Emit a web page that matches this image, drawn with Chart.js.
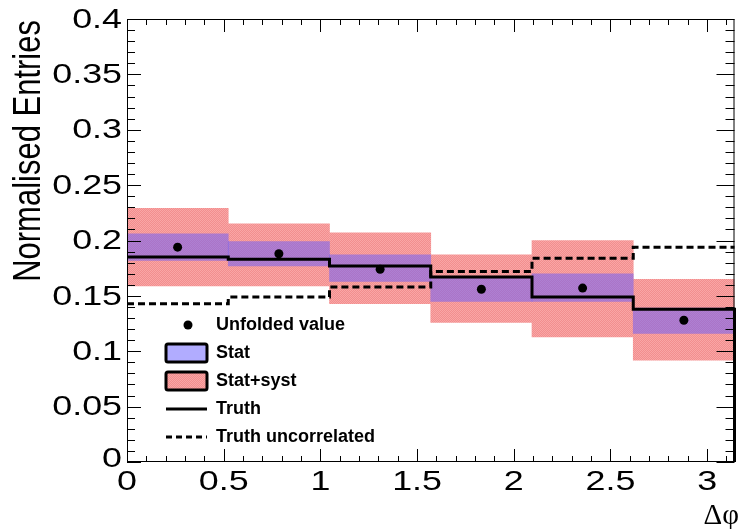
<!DOCTYPE html>
<html>
<head>
<meta charset="utf-8">
<script src="https://cdn.jsdelivr.net/npm/chart.js@4"></script>
<style>
  body { margin: 0; background: #fff; }
  #wrap { width: 739px; height: 529px; }
</style>
</head>
<body>
<div id="wrap"><canvas id="plot"></canvas></div>
<script>
const ctx = document.getElementById('plot').getContext('2d');

// bin edges and centres in delta phi (6 bins of pi/6)
const binEdges = [0, 0.5236, 1.0472, 1.5708, 2.0944, 2.618, 3.1416];
const binCentres = [0.2618, 0.7854, 1.309, 1.8326, 2.3562, 2.8798];

// values
const unfolded = [0.194, 0.188, 0.174, 0.156, 0.157, 0.128];
const statLo = [0.182, 0.177, 0.163, 0.145, 0.145, 0.116];
const statHi = [0.206, 0.199, 0.187, 0.167, 0.170, 0.139];
const systLo = [0.159, 0.159, 0.143, 0.126, 0.113, 0.092];
const systHi = [0.229, 0.215, 0.207, 0.187, 0.200, 0.165];
const truth = [0.185, 0.183, 0.177, 0.167, 0.149, 0.138];
const truthUncorr = [0.143, 0.149, 0.158, 0.172, 0.184, 0.194];

const yTicks = [0, 0.05, 0.1, 0.15, 0.2, 0.25, 0.3, 0.35, 0.4];
const xTicks = [0, 0.5, 1, 1.5, 2, 2.5, 3];

const STAT_FILL = 'rgba(100, 90, 255, 0.5)';

// small checker pattern to mimic the hatched pink fill
function makePattern(c1, c2) {
  const p = document.createElement('canvas');
  p.width = 2; p.height = 2;
  const pc = p.getContext('2d');
  pc.fillStyle = c1; pc.fillRect(0, 0, 2, 2);
  pc.fillStyle = c2; pc.fillRect(0, 0, 1, 1); pc.fillRect(1, 1, 1, 1);
  return ctx.createPattern(p, 'repeat');
}
const pinkFill = makePattern('rgb(242,142,142)', 'rgb(249,166,166)');

function stepData(vals, closeToZero) {
  const pts = vals.map((v, i) => ({ x: binEdges[i], y: v }));
  pts.push({ x: binEdges[binEdges.length - 1], y: vals[vals.length - 1] });
  if (closeToZero) pts.push({ x: binEdges[binEdges.length - 1], y: 0 });
  return pts;
}

function stretchText(c, text, x, y, sx, sy) {
  c.save();
  c.translate(x, y);
  c.scale(sx, sy);
  c.fillText(text, 0, 0);
  c.restore();
}

function roundBox(c, x, y, w, h, r) {
  c.beginPath();
  c.moveTo(x + r, y);
  c.arcTo(x + w, y, x + w, y + h, r);
  c.arcTo(x + w, y + h, x, y + h, r);
  c.arcTo(x, y + h, x, y, r);
  c.arcTo(x, y, x + w, y, r);
  c.closePath();
}

const rootFrame = {
  id: 'rootFrame',
  afterDraw(chart) {
    const c = chart.ctx;
    const a = chart.chartArea;
    const xs = chart.scales.x, ys = chart.scales.y;
    c.save();
    c.strokeStyle = '#000';
    c.lineWidth = 1;
    c.strokeRect(a.left + 0.5, a.top + 0.5, a.right - a.left - 1, a.bottom - a.top - 1);

    // y ticks, left and right
    c.beginPath();
    for (let k = 0; k <= 40; k++) {
      const v = k / 100;
      const py = Math.round(ys.getPixelForValue(v)) + 0.5;
      const len = (k % 5 === 0) ? 14 : 8;
      c.moveTo(a.left, py); c.lineTo(a.left + len, py);
      c.moveTo(a.right, py); c.lineTo(a.right - len - (k % 5 === 0 ? 4 : 1), py);
    }
    // x ticks, bottom and top
    for (let k = 0; k <= 31; k++) {
      const v = k / 10;
      const px = Math.round(xs.getPixelForValue(v)) + 0.5;
      const len = (k % 5 === 0) ? 13 : 6;
      c.moveTo(px, a.bottom); c.lineTo(px, a.bottom - len);
      c.moveTo(px, a.top); c.lineTo(px, a.top + len);
    }
    c.stroke();

    // tick labels
    c.fillStyle = '#000';
    c.font = "28px 'Liberation Sans', Arial, sans-serif";
    c.textBaseline = 'middle';
    c.textAlign = 'right';
    yTicks.forEach(v => {
      let py = ys.getPixelForValue(v);
      if (v === 0) py -= 4;
      stretchText(c, String(v), 122, py + 1, 1.28, 1);
    });
    c.textAlign = 'center';
    xTicks.forEach(v => {
      stretchText(c, String(v), xs.getPixelForValue(v), 482, 1.28, 1);
    });

    // axis titles
    c.save();
    c.translate(29, 20);
    c.rotate(-Math.PI / 2);
    c.textAlign = 'right';
    c.textBaseline = 'middle';
    c.font = "31px 'Liberation Sans', Arial, sans-serif";
    stretchText(c, 'Normalised Entries', 0, 0, 1, 1.25);
    c.restore();

    c.textAlign = 'right';
    c.textBaseline = 'alphabetic';
    c.font = "29px 'Liberation Serif', serif";
    c.fillText('\u0394\u03c6', 739, 524);

    // legend
    const lx = 166, tx = 216;
    c.font = "bold 18px 'Liberation Sans', Arial, sans-serif";
    c.textAlign = 'left';
    c.textBaseline = 'middle';
    c.beginPath();
    c.arc(188, 325, 4.5, 0, Math.PI * 2);
    c.fill();
    c.fillText('Unfolded value', tx, 325);

    c.lineWidth = 3;
    roundBox(c, lx, 344, 41, 18, 2);
    c.fillStyle = STAT_FILL; c.fill(); c.stroke();
    roundBox(c, lx, 372, 41, 18, 2);
    c.fillStyle = pinkFill; c.fill(); c.stroke();
    c.fillStyle = '#000';
    c.fillText('Stat', tx, 353);
    c.fillText('Stat+syst', tx, 381);

    c.lineWidth = 3;
    c.beginPath(); c.moveTo(lx, 409); c.lineTo(lx + 41, 409); c.stroke();
    c.fillText('Truth', tx, 409);
    c.setLineDash([6, 4]);
    c.beginPath(); c.moveTo(lx, 437); c.lineTo(lx + 41, 437); c.stroke();
    c.setLineDash([]);
    c.fillText('Truth uncorrelated', tx, 437);
    c.restore();
  }
};

new Chart(ctx, {
  type: 'line',
  data: {
    datasets: [
      {
        type: 'bar',
        label: 'Stat+syst',
        data: binCentres.map((x, i) => ({ x: x, y: [systLo[i], systHi[i]] })),
        backgroundColor: pinkFill,
        borderWidth: 0,
        barPercentage: 1,
        categoryPercentage: 1,
        grouped: false,
        order: 5
      },
      {
        type: 'bar',
        label: 'Stat',
        data: binCentres.map((x, i) => ({ x: x, y: [statLo[i], statHi[i]] })),
        backgroundColor: STAT_FILL,
        borderWidth: 0,
        barPercentage: 1,
        categoryPercentage: 1,
        grouped: false,
        order: 4
      },
      {
        label: 'Truth',
        data: stepData(truth, true),
        stepped: 'before',
        borderColor: '#000',
        borderWidth: 3,
        pointRadius: 0,
        fill: false,
        clip: false,
        order: 3
      },
      {
        label: 'Truth uncorrelated',
        data: stepData(truthUncorr, false),
        stepped: 'before',
        borderColor: '#000',
        borderWidth: 3,
        borderDash: [7, 4],
        pointRadius: 0,
        fill: false,
        clip: false,
        order: 2
      },
      {
        label: 'Unfolded value',
        data: binCentres.map((x, i) => ({ x: x, y: unfolded[i] })),
        showLine: false,
        pointRadius: 4.5,
        pointBackgroundColor: '#000',
        pointBorderWidth: 0,
        order: 1
      }
    ]
  },
  options: {
    responsive: true,
    maintainAspectRatio: false,
    animation: false,
    layout: { padding: { left: 127, top: 19, right: 2, bottom: 67 } },
    plugins: { legend: { display: false }, tooltip: { enabled: false } },
    scales: {
      x: {
        type: 'linear', min: 0, max: 3.1416, offset: false, display: false,
        // bin edges as ticks so the bars fill each bin
        afterBuildTicks: (scale) => { scale.ticks = binEdges.map(v => ({ value: v })); }
      },
      y: { type: 'linear', min: 0, max: 0.4, display: false }
    }
  },
  plugins: [rootFrame]
});
</script>
</body>
</html>
